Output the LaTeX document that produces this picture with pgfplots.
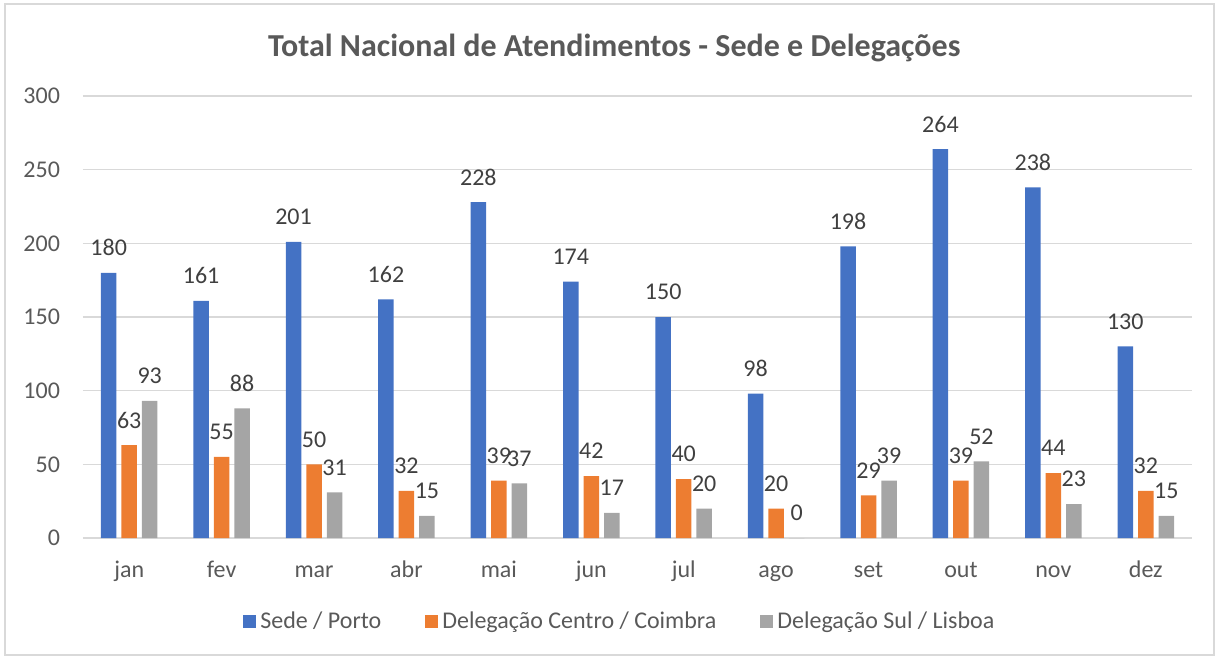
\documentclass[border=0pt]{standalone}
\usepackage{pgfplots}
\pgfplotsset{compat=1.18}
\usepackage{fontspec}
\setmainfont{Carlito}
\definecolor{cblue}{HTML}{4472C4}
\definecolor{corange}{HTML}{ED7D31}
\definecolor{cgray}{HTML}{A5A5A5}
\definecolor{ctext}{HTML}{595959}
\definecolor{clabel}{HTML}{404040}
\definecolor{cgrid}{HTML}{D9D9D9}
\begin{document}
\begin{tikzpicture}
\useasboundingbox (-41.5pt,-60.5pt) rectangle (568pt,269pt);
\draw[cgrid, line width=0.75pt] (-39pt,-58.5pt) rectangle (565.5pt,267pt);
\begin{axis}[
  at={(0pt,0pt)}, anchor=south west,
  scale only axis,
  width=554.5pt, height=221pt,
  ymin=0, ymax=300,
  xmin=-0.5, xmax=11.5,
  ytick={0,50,...,300},
  xtick={0,...,11},
  xticklabels={jan,fev,mar,abr,mai,jun,jul,ago,set,out,nov,dez},
  axis line style={draw=none},
  major tick length=0pt,
  ymajorgrids, grid style={cgrid, line width=0.75pt},
  tick label style={font=\fontsize{12}{14}\selectfont, text=ctext},
  /pgf/number format/assume math mode=true,
  yticklabel style={xshift=-8pt},
  xticklabel style={anchor=base, yshift=-19.5pt},
  ybar=0pt,
  bar width=0.168,
  nodes near coords,
  every node near coord/.append style={font=\fontsize{12}{14}\selectfont, text=clabel, anchor=center, yshift=12.5pt},
  legend columns=3,
  legend style={at={(0.485,-0.19)}, anchor=center, draw=none, fill=none,
    font=\fontsize{12}{14}\selectfont, text=ctext,
    /tikz/every even column/.append style={column sep=20pt},
    inner sep=0pt},
  legend image code/.code={\fill[#1] (0pt,-3.25pt) rectangle (6.5pt,3.25pt);},
  title={\fontsize{16}{19}\selectfont\bfseries Total Nacional de Atendimentos - Sede e Delegações},
  title style={text=ctext, at={(0.479,1)}, anchor=center, yshift=18pt},
]
\addplot[fill=cblue, draw=none, bar shift=-0.222] coordinates {(0,180) (1,161) (2,201) (3,162) (4,228) (5,174) (6,150) (7,98) (8,198) (9,264) (10,238) (11,130)};
\addplot[fill=corange, draw=none, bar shift=0] coordinates {(0,63) (1,55) (2,50) (3,32) (4,39) (5,42) (6,40) (7,20) (8,29) (9,39) (10,44) (11,32)};
\addplot[fill=cgray, draw=none, bar shift=0.222] coordinates {(0,93) (1,88) (2,31) (3,15) (4,37) (5,17) (6,20) (7,0) (8,39) (9,52) (10,23) (11,15)};
\legend{Sede / Porto, Delegação Centro / Coimbra, Delegação Sul / Lisboa}
\end{axis}
\end{tikzpicture}
\end{document}
